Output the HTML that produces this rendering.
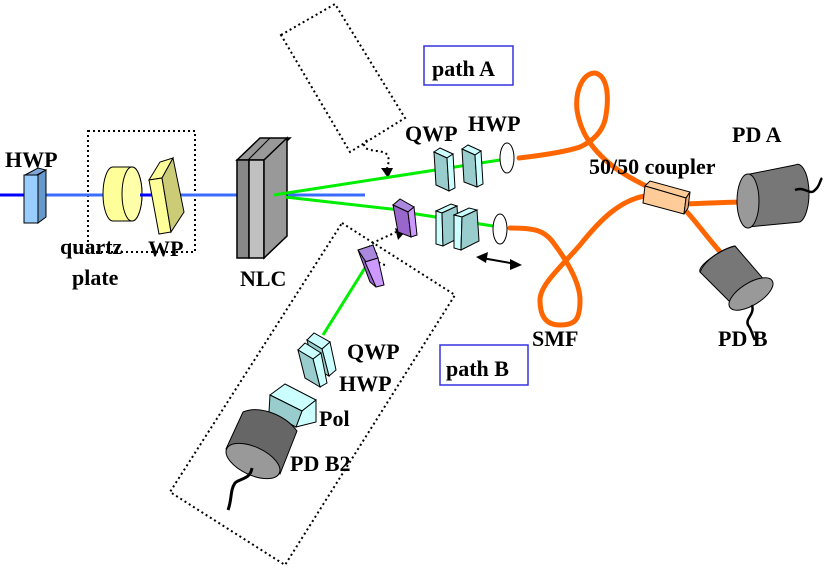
<!DOCTYPE html>
<html><head><style>body{margin:0;background:#fff}svg{display:block}text{font-family:"Liberation Serif",serif;font-weight:bold;fill:#000}</style></head><body>
<svg width="830" height="569" viewBox="0 0 830 569" xmlns="http://www.w3.org/2000/svg">
<g fill="none" stroke="#000" stroke-width="2" stroke-dasharray="2,3">
<rect x="88" y="131" width="107" height="121"/>
<polygon points="281,35 335,4 405,118 350,152"/>
<polygon points="342,223 455,295 285,565 170,492"/>
<path d="M367,140 C358,150 372,150 383,152 C392,155 388,165 386,172"/>
<path d="M385,265 C372,262 382,255 372,250 C362,245 385,238 396,232"/>
</g>
<path d="M381,168 L388,178 L393,168 Z" fill="#000"/>
<path d="M395,228 L405,232 L398,240 Z" fill="#000"/>
<line x1="0" y1="195" x2="25" y2="195" stroke="#0000ff" stroke-width="3"/>
<line x1="44" y1="195" x2="237" y2="195" stroke="#3a6cff" stroke-width="3"/>
<line x1="285" y1="195" x2="365" y2="195" stroke="#3a6cff" stroke-width="3"/>
<polygon points="25,175 38,168 46,170 33,177" fill="#7fa8d8" stroke="#000"/>
<rect x="24" y="175" width="14" height="48" fill="#99ccff" stroke="#000"/>
<polygon points="38,175 46,170 46,217 38,223" fill="#6699cc" stroke="#000"/>
<path d="M113,167 L132,167 A10,27 0 0 1 132,221 L113,221 A10,27 0 0 1 113,167Z" fill="#ffff99" stroke="#000"/>
<ellipse cx="132" cy="194" rx="10" ry="27" fill="#ffffaa" stroke="#000"/>
<line x1="140" y1="195" x2="155" y2="195" stroke="#0000ff" stroke-width="3"/>
<polygon points="149,180 160,162 173,158 162,178" fill="#ffff99" stroke="#000"/>
<polygon points="149,180 162,178 171,232 159,234" fill="#ffff99" stroke="#000"/>
<polygon points="162,178 173,158 184,212 171,232" fill="#cccc77" stroke="#000"/>
<polygon points="237,160 260,138 290,138 267,160" fill="#999" stroke="#000" stroke-width="1.5"/>
<rect x="237" y="160" width="12" height="98" fill="#888" stroke="#000" stroke-width="1.5"/>
<rect x="249" y="160" width="15" height="98" fill="#c0c0c0" stroke="#000" stroke-width="1.5"/>
<polygon points="264,160 287,138 287,236 264,258" fill="#999" stroke="#000" stroke-width="1.5"/>
<line x1="248" y1="160" x2="270" y2="138" stroke="#000"/>
<g stroke="#00ee00" stroke-width="3" fill="none">
<line x1="274" y1="195" x2="500" y2="160"/>
<line x1="285" y1="197" x2="400" y2="210"/>
<line x1="410" y1="213" x2="493" y2="226"/>
<line x1="368" y1="263" x2="323" y2="335"/>
<line x1="287" y1="419" x2="280" y2="430"/>
</g>
<g stroke="#000">
<polygon points="434,152 440,148 453,154 447,158" fill="#ccffff"/>
<polygon points="434,152 447,158 449,191 436,185" fill="#99cccc"/>
<polygon points="447,158 453,154 455,188 449,191" fill="#ccffff"/>
<polygon points="462,149 468,145 481,151 475,155" fill="#ccffff"/>
<polygon points="462,149 475,155 477,187 464,182" fill="#99cccc"/>
<polygon points="475,155 481,151 483,184 477,187" fill="#ccffff"/>
<polygon points="436,211 451,204 457,206 442,213" fill="#ccffff"/>
<polygon points="436,211 442,213 443,246 436,244" fill="#ccffff"/>
<polygon points="442,213 457,206 459,238 443,246" fill="#99cccc"/>
<polygon points="454,215 469,208 477,210 462,217" fill="#ccffff"/>
<polygon points="454,215 462,217 461,250 454,248" fill="#ccffff"/>
<polygon points="462,217 477,210 479,241 461,250" fill="#99cccc"/>
<polygon points="393,205 400,199 414,207 408,212" fill="#aa88dd"/>
<polygon points="393,205 408,212 411,237 398,232" fill="#9966cc"/>
<polygon points="408,212 414,207 417,235 411,237" fill="#cc99ff"/>
<polygon points="358,250 373,245 378,258 365,262" fill="#aa88dd"/>
<polygon points="358,250 366,262 376,287 370,282" fill="#9966cc"/>
<polygon points="365,262 378,258 384,285 376,287" fill="#cc99ff"/>
<ellipse cx="507" cy="158" rx="7" ry="15" fill="#fff"/>
<ellipse cx="500" cy="229" rx="7" ry="15" fill="#fff"/>
</g>
<line x1="482" y1="258" x2="516" y2="264" stroke="#000" stroke-width="2"/>
<path d="M476,257 L488,252 L486,263Z M522,265 L510,259 L510,270Z" fill="#000"/>
<g stroke="#ff6600" stroke-width="5" fill="none" stroke-linecap="round">
<path d="M519,158 C545,155 565,152 580,147 C595,140 604,130 606,115 C610,90 605,75 595,73 C583,73 575,90 577,110 C580,130 590,150 618,170 C630,178 640,183 648,187"/>
<path d="M510,228 C535,228 545,230 555,245 C570,265 580,285 580,300 C580,320 575,325 560,325 C545,325 540,315 540,300 C540,285 560,268 580,245 C600,220 620,200 645,196"/>
<path d="M686,204 C710,203 730,202 745,202"/>
<path d="M685,210 C695,220 705,235 722,254"/>
</g>
<g stroke="#000">
<polygon points="645,186 650,181 690,192 686,198" fill="#ffcc99"/>
<polygon points="645,186 686,198 684,214 643,203" fill="#ffcc99"/>
<polygon points="686,198 690,192 688,208 684,214" fill="#eeaa77"/>
</g>
<path d="M745,175 L795,165 A11,28 0 0 1 800,222 L748,227" fill="#777" stroke="#000"/>
<ellipse cx="748" cy="201" rx="11" ry="27" fill="#999" stroke="#000"/>
<path d="M795,190 C805,186 810,196 815,190 C820,186 820,180 822,178" stroke="#000" stroke-width="2.5" fill="none"/>
<path d="M700,272 C705,260 720,250 735,246 L766,282 C760,292 745,302 735,307 Z" fill="#777" stroke="#000"/>
<path d="M700,272 C697,265 725,247 735,246" fill="none" stroke="#000"/>
<ellipse cx="751" cy="294" rx="25" ry="11" transform="rotate(-32 751 294)" fill="#999" stroke="#000"/>
<path d="M752,305 C755,315 745,318 748,325 C752,330 752,335 755,340" stroke="#000" stroke-width="2.5" fill="none"/>
<g stroke="#000">
<polygon points="307,340 314,333 330,342 322,349" fill="#ccffff"/>
<polygon points="322,349 330,342 336,370 329,376" fill="#ccffff"/>
<polygon points="307,340 322,349 329,376 314,368" fill="#99cccc"/>
<polygon points="298,350 305,343 321,353 313,359" fill="#ccffff"/>
<polygon points="313,359 321,353 327,383 320,387" fill="#ccffff"/>
<polygon points="298,350 313,359 320,387 305,378" fill="#99cccc"/>
<polygon points="270,395 285,384 316,400 302,411" fill="#ccffff"/>
<polygon points="302,411 316,400 316,422 296,427" fill="#ccffff"/>
<polygon points="270,395 302,411 296,427 269,412" fill="#99cccc"/>
<path d="M226,449 L243,412 C260,405 285,415 297,431 L280,474 Z" fill="#666"/>
<ellipse cx="253" cy="461" rx="29" ry="14" transform="rotate(25 253 461)" fill="#999"/>
</g>
<path d="M252,468 C250,480 240,478 235,483 C230,490 232,500 228,510" stroke="#000" stroke-width="3" fill="none"/>
<rect x="424" y="46" width="89" height="39" fill="#fff" stroke="#3333dd" stroke-width="1.5"/>
<rect x="440" y="345" width="88" height="40" fill="#fff" stroke="#3333dd" stroke-width="1.5"/>
<g font-size="22">
<text x="5" y="167">HWP</text>
<text x="60" y="254">quartz</text>
<text x="72" y="285">plate</text>
<text x="148" y="256">WP</text>
<text x="240" y="286">NLC</text>
<text x="432" y="76">path A</text>
<text x="446" y="376">path B</text>
<text x="405" y="141">QWP</text>
<text x="468" y="131">HWP</text>
<text x="589" y="174">50/50 coupler</text>
<text x="732" y="142">PD A</text>
<text x="532" y="346">SMF</text>
<text x="718" y="346">PD B</text>
<text x="347" y="359">QWP</text>
<text x="339" y="391">HWP</text>
<text x="319" y="426">Pol</text>
<text x="290" y="471">PD B2</text>
</g>
</svg>
</body></html>
